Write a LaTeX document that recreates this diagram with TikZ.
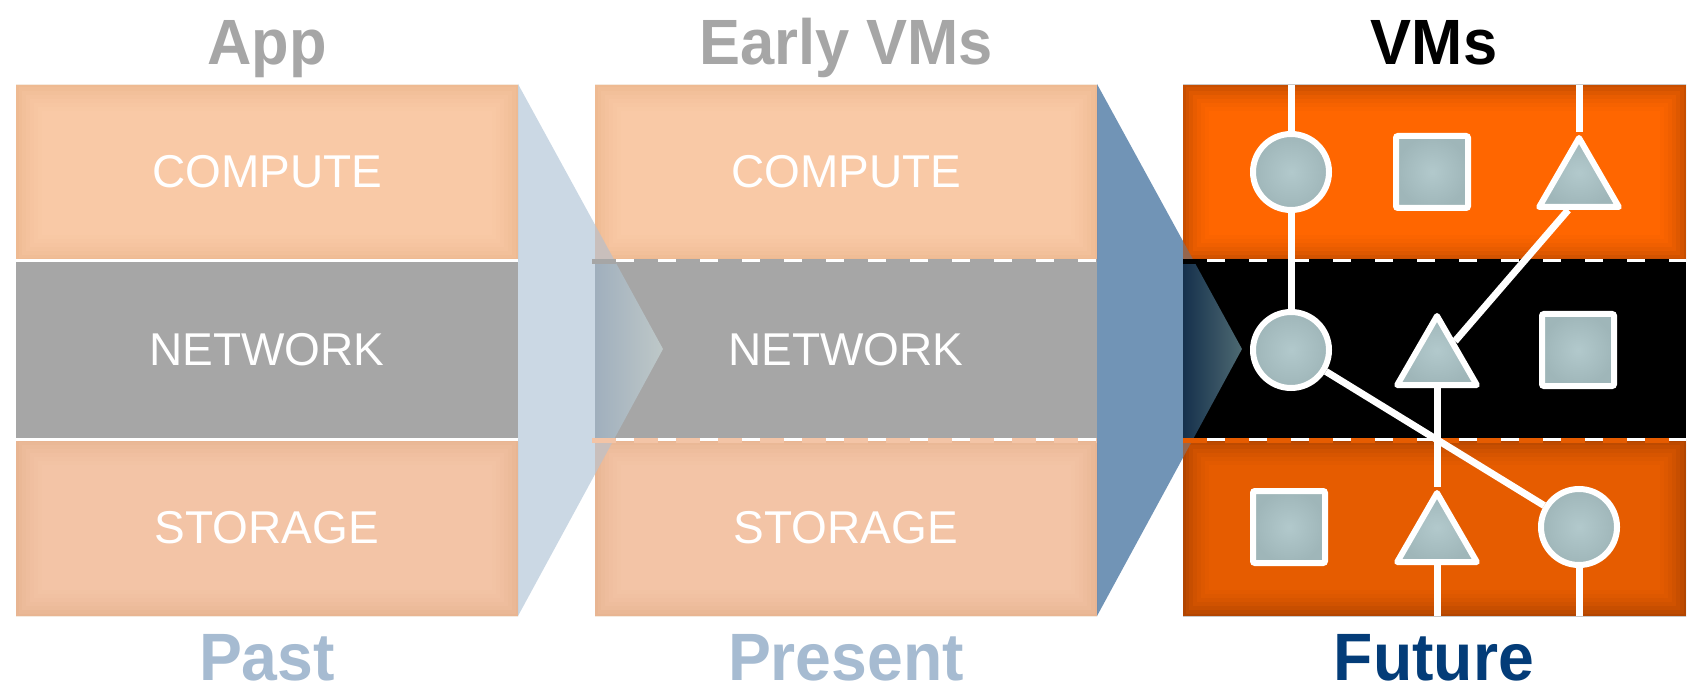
\documentclass[tikz,border=0pt]{standalone}
\usepackage{fontspec}
\setmainfont{Liberation Sans}
\newfontfamily\headfont[FakeStretch=0.96]{Liberation Sans}
\usetikzlibrary{shapes.geometric,calc}
\definecolor{peachC}{HTML}{F9C9A6}
\definecolor{peachS}{HTML}{F3C4A6}
\definecolor{netgray}{HTML}{A6A6A6}
\definecolor{orgC}{HTML}{FF6600}
\definecolor{orgS}{HTML}{E65C00}
\definecolor{triA}{HTML}{CBD8E4}
\definecolor{triB}{HTML}{7194B6}
\definecolor{shapeIn}{HTML}{B2C9CC}
\definecolor{shapeOut}{HTML}{9FB6B9}
\definecolor{pastblue}{HTML}{A6BBD1}
\definecolor{futblue}{HTML}{033C78}
\definecolor{ovPeach}{HTML}{C9BFBC}
\definecolor{ovNetL}{HTML}{A0AFBD}
\definecolor{ovNetR}{HTML}{BEC8C8}
\definecolor{ovOrg}{HTML}{95664E}
\definecolor{ovBlkL}{HTML}{15304C}
\definecolor{ovBlkR}{HTML}{4E6A72}
\newcommand\inshadow[6]{%
  \begin{scope}
    \clip (#1,#2) rectangle (#3,#4);
    \foreach \w/\o in {52/0.025,44/0.03,36/0.035,28/0.045,20/0.055,12/0.07,5/0.08}{
      \pgfmathsetmacro\op{\o*#6}
      \draw[#5, line width=\w, opacity=\op] (#1,#2) rectangle (#3,#4);}
  \end{scope}}
\begin{document}
\begin{tikzpicture}[x=1pt,y=-1pt,
  headlbl/.style={anchor=base, inner sep=0, font=\headfont\bfseries\fontsize{64}{70}\selectfont},
  botlbl/.style={anchor=base, inner sep=0, font=\headfont\bfseries\fontsize{67}{72}\selectfont},
  rowlbl/.style={anchor=base, inner sep=0, text=white, font=\fontsize{46}{50}\selectfont},
  vmline/.style={white, line width=7},
  vmcirc/.style={circle, draw=white, line width=6, minimum size=76, inner sep=0, inner color=shapeIn, outer color=shapeOut},
  vmsq/.style={rectangle, draw=white, line width=6, minimum size=72, inner sep=0, rounded corners=2, inner color=shapeIn, outer color=shapeOut},
  vmtri/.style={regular polygon, regular polygon sides=3, draw=white, line width=6, minimum size=92, inner sep=0, line join=round, inner color=shapeIn, outer color=shapeOut},
  divline/.style={white, line width=3},
  dashdiv/.style={line width=5, dash pattern=on 24 off 18}
]
\useasboundingbox (0,0) rectangle (1691,692);

% transition wedges
\fill[triA] (518,84) -- (663,349) -- (518,616) -- cycle;
\fill[triB] (1097,84) -- (1242,349) -- (1097,616) -- cycle;

% panel 1
\fill[peachC] (16,85) rectangle (518,261);
\fill[netgray] (16,261) rectangle (518,439);
\fill[peachS] (16,439) rectangle (518,616);
\inshadow{16}{85}{518}{261}{brown}{0.5}
\inshadow{16}{439}{518}{616}{brown}{0.5}

% panel 2
\fill[peachC] (595,85) rectangle (1097,261);
\fill[netgray] (595,261) rectangle (1097,439);
\fill[peachS] (595,439) rectangle (1097,616);
\inshadow{595}{85}{1097}{261}{brown}{0.5}
\inshadow{595}{439}{1097}{616}{brown}{0.5}

% panel 3
\fill[orgC] (1183,85) rectangle (1686,261);
\fill[black] (1183,261) rectangle (1686,439);
\fill[orgS] (1183,439) rectangle (1686,616);
\inshadow{1183}{85}{1686}{261}{black}{0.7}
\inshadow{1183}{439}{1686}{616}{black}{0.7}

% overlaps of wedges with panels
\begin{scope}
  \clip (518,84) -- (663,349) -- (518,616) -- cycle;
  \fill[ovPeach] (595,85) rectangle (663,261);
  \shade[left color=ovNetL, right color=ovNetR] (595,261) rectangle (663,439);
  \fill[ovPeach] (595,439) rectangle (663,616);
\end{scope}
\begin{scope}
  \clip (1097,84) -- (1242,349) -- (1097,616) -- cycle;
  \fill[ovOrg] (1183,85) rectangle (1242,261);
  \shade[left color=ovBlkL, right color=ovBlkR] (1183,261) rectangle (1242,439);
  \fill[ovOrg] (1183,439) rectangle (1242,616);
\end{scope}

% dividers
\draw[divline] (16,261) -- (518,261);
\draw[divline] (16,439) -- (518,439);
\draw[divline] (595,261) -- (1097,261);
\draw[dashdiv, netgray] (592,262) -- (1097,262);
\draw[divline] (595,439) -- (1097,439);
\draw[dashdiv, peachS] (592,440) -- (1097,440);
\draw[divline] (1183,261) -- (1686,261);
\draw[dashdiv, black] (1183,262) -- (1686,262);
\draw[divline] (1183,439) -- (1686,439);
\draw[dashdiv, orgS] (1183,440) -- (1686,440);

% headings
\node[headlbl, text=netgray] (hApp) at (267,65) {App};
\node[headlbl, text=netgray] (hEarly) at (846,65) {Early VMs};
\node[headlbl, text=black] (hVMs) at (1434,65) {VMs};

% row labels
\node[rowlbl] (p1c) at (267,188) {COMPUTE};
\node[rowlbl] (p1n) at (267,365) {NETWORK};
\node[rowlbl] (p1s) at (267,543) {STORAGE};
\node[rowlbl] (p2c) at (846,188) {COMPUTE};
\node[rowlbl] (p2n) at (846,365) {NETWORK};
\node[rowlbl] (p2s) at (846,543) {STORAGE};

% bottom labels
\node[botlbl, text=pastblue] (lPast) at (267,680) {Past};
\node[botlbl, text=pastblue] (lPresent) at (846,680) {Present};
\node[botlbl, text=futblue] (lFuture) at (1434,680) {Future};

% VM shapes
\node[vmcirc] (c1) at (1291,172) {};
\node[vmsq]   (s1) at (1432,172) {};
\node[vmtri]  (t1) at (1579,184) {};
\node[vmcirc] (c2) at (1291,350) {};
\node[vmtri]  (t2) at (1437,362) {};
\node[vmsq]   (s2) at (1578,350) {};
\node[vmsq]   (s3) at (1289,527) {};
\node[vmtri]  (t3) at (1437,539) {};
\node[vmcirc] (c3) at (1579,527) {};

\coordinate (topA) at (1291,85);
\coordinate (topC) at (1579,85);
\coordinate (botB) at (1437,616);
\coordinate (botC) at (1579,616);

% links
\draw[vmline] (topA) -- (c1.north);
\draw[vmline] (c1.south) -- (c2.north);
\draw[vmline] (topC) -- (t1.corner 1);
\draw[vmline] ($(t1.corner 2)!0.38!(t1.corner 3)$) -- ($(t2.corner 1)!0.4!(t2.corner 3)$);
\draw[vmline] (c2) -- (c3);
\draw[vmline] (t2.side 2) -- (t3.corner 1);
\draw[vmline] (t3.side 2) -- (botB);
\draw[vmline] (c3.south) -- (botC);
\end{tikzpicture}
\end{document}
